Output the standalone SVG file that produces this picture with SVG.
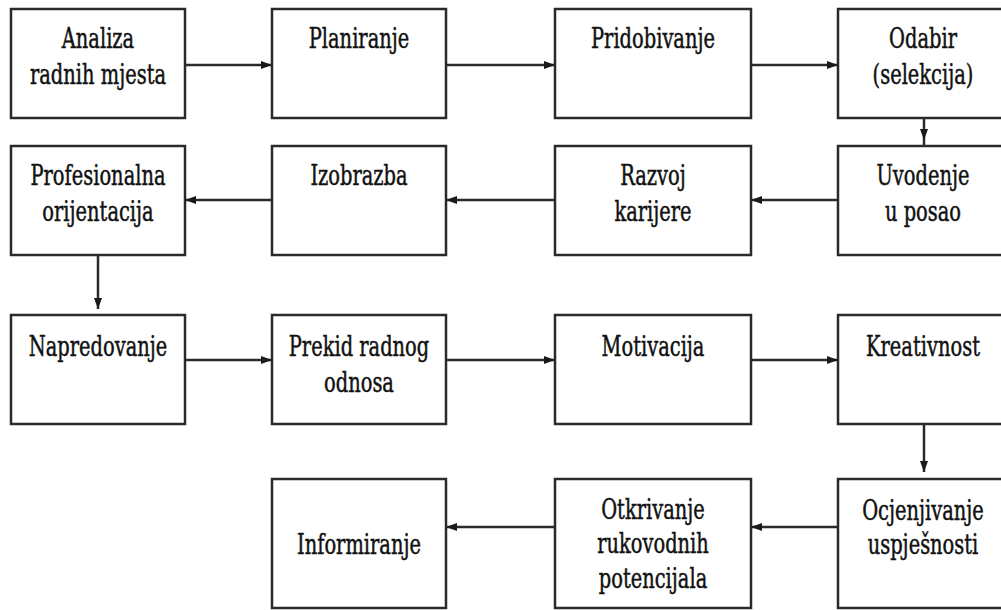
<svg xmlns="http://www.w3.org/2000/svg" width="1001" height="610" viewBox="0 0 1001 610">
<style>
.box{fill:#fff;stroke:#2a2a2a;stroke-width:2.5}
.ln{fill:none;stroke:#2a2a2a;stroke-width:2.5}
.t{font-family:'DejaVu Serif',serif;font-size:27px;fill:#111;stroke:#111;stroke-width:0.5;text-anchor:middle}
</style>
<defs>
<marker id="ah" markerUnits="userSpaceOnUse" markerWidth="12" markerHeight="10" refX="11" refY="5" orient="auto">
<path d="M0,1 L11,5 L0,9 Z" fill="#1a1a1a"/>
</marker>
</defs>
<rect width="1001" height="610" fill="#fff"/>
<g id="connectors">
<path class="ln" d="M185,65 H272" marker-end="url(#ah)"/>
<path class="ln" d="M446,65 H555" marker-end="url(#ah)"/>
<path class="ln" d="M751,65 H838" marker-end="url(#ah)"/>
<path class="ln" d="M924,118 V140" marker-end="url(#ah)"/>
<path class="ln" d="M924,140 V146"/>
<path class="ln" d="M838,200 H751" marker-end="url(#ah)"/>
<path class="ln" d="M555,200 H446" marker-end="url(#ah)"/>
<path class="ln" d="M272,200 H185" marker-end="url(#ah)"/>
<path class="ln" d="M98,255 V309" marker-end="url(#ah)"/>
<path class="ln" d="M185,360 H272" marker-end="url(#ah)"/>
<path class="ln" d="M446,360 H555" marker-end="url(#ah)"/>
<path class="ln" d="M751,360 H838" marker-end="url(#ah)"/>
<path class="ln" d="M924,417 V472" marker-end="url(#ah)"/>
<path class="ln" d="M838,527 H751" marker-end="url(#ah)"/>
<path class="ln" d="M555,527 H446" marker-end="url(#ah)"/>
</g>
<g id="n-analiza"><rect class="box" x="11" y="9" width="174" height="109"/>
<text class="t" transform="matrix(0.72 0 0 1 98 0)" y="48">Analiza</text>
<text class="t" transform="matrix(0.72 0 0 1 98 0)" y="84">radnih mjesta</text></g>
<g id="n-planiranje"><rect class="box" x="272" y="9" width="174" height="109"/>
<text class="t" transform="matrix(0.72 0 0 1 359 0)" y="48">Planiranje</text></g>
<g id="n-pridobivanje"><rect class="box" x="555" y="9" width="196" height="109"/>
<text class="t" transform="matrix(0.72 0 0 1 653 0)" y="48">Pridobivanje</text></g>
<g id="n-odabir"><rect class="box" x="838" y="9" width="172" height="109"/>
<text class="t" transform="matrix(0.72 0 0 1 923 0)" y="48">Odabir</text>
<text class="t" transform="matrix(0.72 0 0 1 923 0)" y="84">(selekcija)</text></g>
<g id="n-profesionalna"><rect class="box" x="11" y="146" width="174" height="109"/>
<text class="t" transform="matrix(0.72 0 0 1 98 0)" y="185">Profesionalna</text>
<text class="t" transform="matrix(0.72 0 0 1 98 0)" y="221">orijentacija</text></g>
<g id="n-izobrazba"><rect class="box" x="272" y="146" width="174" height="109"/>
<text class="t" transform="matrix(0.72 0 0 1 359 0)" y="185">Izobrazba</text></g>
<g id="n-razvoj"><rect class="box" x="555" y="146" width="196" height="109"/>
<text class="t" transform="matrix(0.72 0 0 1 653 0)" y="185">Razvoj</text>
<text class="t" transform="matrix(0.72 0 0 1 653 0)" y="221">karijere</text></g>
<g id="n-uvodenje"><rect class="box" x="838" y="146" width="172" height="109"/>
<text class="t" transform="matrix(0.72 0 0 1 923 0)" y="185">Uvodenje</text>
<text class="t" transform="matrix(0.72 0 0 1 923 0)" y="221">u posao</text></g>
<g id="n-napredovanje"><rect class="box" x="11" y="315" width="174" height="109"/>
<text class="t" transform="matrix(0.72 0 0 1 98 0)" y="356">Napredovanje</text></g>
<g id="n-prekid"><rect class="box" x="272" y="315" width="174" height="109"/>
<text class="t" transform="matrix(0.72 0 0 1 359 0)" y="356">Prekid radnog</text>
<text class="t" transform="matrix(0.72 0 0 1 359 0)" y="392">odnosa</text></g>
<g id="n-motivacija"><rect class="box" x="555" y="315" width="196" height="109"/>
<text class="t" transform="matrix(0.72 0 0 1 653 0)" y="356">Motivacija</text></g>
<g id="n-kreativnost"><rect class="box" x="838" y="315" width="172" height="109"/>
<text class="t" transform="matrix(0.72 0 0 1 923 0)" y="356">Kreativnost</text></g>
<g id="n-informiranje"><rect class="box" x="272" y="479" width="174" height="129"/>
<text class="t" transform="matrix(0.72 0 0 1 359 0)" y="554">Informiranje</text></g>
<g id="n-otkrivanje"><rect class="box" x="555" y="479" width="196" height="129"/>
<text class="t" transform="matrix(0.72 0 0 1 653 0)" y="519">Otkrivanje</text>
<text class="t" transform="matrix(0.72 0 0 1 653 0)" y="553">rukovodnih</text>
<text class="t" transform="matrix(0.72 0 0 1 653 0)" y="588">potencijala</text></g>
<g id="n-ocjenjivanje"><rect class="box" x="838" y="479" width="172" height="129"/>
<text class="t" transform="matrix(0.72 0 0 1 923 0)" y="520">Ocjenjivanje</text>
<text class="t" transform="matrix(0.72 0 0 1 923 0)" y="554">uspješnosti</text></g>
</svg>
